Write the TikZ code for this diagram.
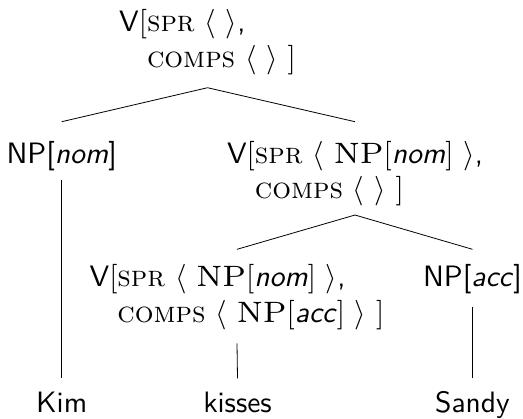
\documentclass[tikz,border=0pt]{standalone}
\usepackage{graphicx}
\newcommand{\feat}[1]{\textrm{\textsc{#1}}}
\newcommand{\npw}{\scalebox{1.5}[1.4286]{\fontsize{7}{8}\selectfont\rmfamily NP}}
\newcommand{\cat}[1]{\npw$[$\textit{#1}$]$}
\begin{document}
\begin{tikzpicture}[x=1pt,y=-1pt,
  base/.style={inner sep=0pt,outer sep=0pt,anchor=base,scale=2.95,font=\fontsize{10}{12}\selectfont\sffamily},
  word/.style={base,text height=8.4pt,text depth=3.6pt},
  leaf/.style={base,text height=8.4pt},
  avm/.style={base},
  edge/.style={draw=black,line width=0.8pt}]
\useasboundingbox (0,0) rectangle (523,419);
\node[avm] (root) at (207.5,31.7) {V$[$\begin{tabular}[t]{@{}l@{}}\feat{spr} $\langle$ $\rangle$,\\ \feat{comps} $\langle$ $\rangle$ $]$\end{tabular}};
\node[word] (npnom) at (61.7,163.3) {NP[\textit{nom}]};
\node[avm] (vright) at (355,163.3) {V$[$\begin{tabular}[t]{@{}l@{}}\feat{spr} $\langle$ \cat{nom} $\rangle$,\\ \feat{comps} $\langle$ $\rangle$ $]$\end{tabular}};
\node[avm] (vlow) at (237,286.7) {V$[$\begin{tabular}[t]{@{}l@{}}\feat{spr} $\langle$ \cat{nom} $\rangle$,\\ \feat{comps} $\langle$ \cat{acc} $\rangle$ $]$\end{tabular}};
\node[word] (npacc) at (472.5,286.7) {NP[\textit{acc}]};
\node[leaf] (kim) at (61.7,413) {Kim};
\node[leaf] (kisses) at (237.5,413) {kisses};
\node[leaf] (sandy) at (472.5,413) {Sandy};
\draw[edge] ([yshift=-10pt]root.south) -- ([yshift=16.8pt]npnom.north);
\draw[edge] ([yshift=-10pt]root.south) -- ([yshift=16.8pt]vright.north);
\draw[edge] ([yshift=-5.7pt]vright.south) -- ([yshift=12.6pt]vlow.north);
\draw[edge] ([yshift=-5.7pt]vright.south) -- ([yshift=12.6pt]npacc.north);
\draw[edge] ([yshift=-6.1pt]npnom.south) -- ([yshift=9.9pt]kim.north);
\draw[edge] ([yshift=-10.6pt]vlow.south) -- ([yshift=9.9pt]kisses.north);
\draw[edge] ([yshift=-9.4pt]npacc.south) -- ([yshift=9.9pt]sandy.north);
\end{tikzpicture}
\end{document}
